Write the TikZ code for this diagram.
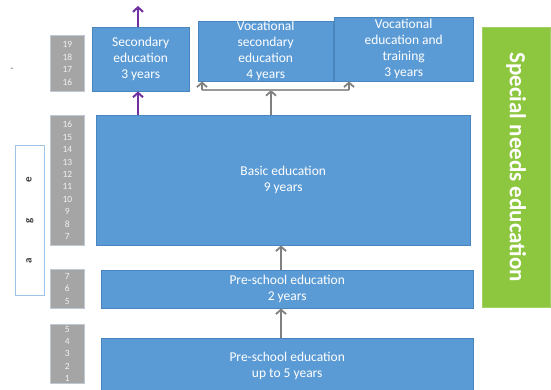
\documentclass[tikz,border=0pt]{standalone}
\usepackage{fontspec}
\setmainfont{Carlito}
\usetikzlibrary{arrows.meta, positioning}
\definecolor{edublue}{HTML}{5B9BD5}
\definecolor{eduedge}{HTML}{4A86BE}
\definecolor{agegray}{HTML}{A5A5A5}
\definecolor{ageedge}{HTML}{BFC9D3}
\definecolor{specgreen}{HTML}{8DC63F}
\definecolor{arrowgray}{HTML}{808080}
\definecolor{pathviolet}{HTML}{7030A0}
\definecolor{labeledge}{HTML}{9DC3E6}

\begin{document}
\begin{tikzpicture}[x=1pt, y=-1pt,
  edubox/.style={draw=eduedge, fill=edublue, text=white, align=center, anchor=north west,
    inner sep=0pt, font=\fontsize{13.5}{16}\selectfont},
  agebox/.style={draw=ageedge, line width=0.8pt, fill=agegray, text=white!85!agegray, align=center,
    anchor=north west, inner sep=0pt, minimum width=34pt, font=\fontsize{9.5}{12.4}\selectfont},
  grayarrow/.style={-{Straight Barb[length=4.5pt, width=10pt]}, draw=arrowgray, line width=1.8pt},
  violetarrow/.style={-{Straight Barb[length=4.5pt, width=10pt]}, draw=pathviolet, line width=2pt}]
\clip (0,0) rectangle (551,390);
\useasboundingbox (0,0) rectangle (551,390);

% age columns
\node[agebox, minimum height=56pt] (age19) at (50,35) {19\\18\\17\\16};
\node[agebox, minimum height=130pt] (age16) at (50,115) {16\\15\\14\\13\\12\\11\\10\\9\\8\\7};
\node[agebox, minimum height=39pt] (age7) at (50,269) {7\\6\\5};
\node[agebox, minimum height=59pt] (age5) at (50,324) {5\\4\\3\\2\\1};

\node[draw=labeledge, fill=white, line width=0.8pt, anchor=north west, minimum width=29pt,
  minimum height=150pt, inner sep=0pt] (agelabel) at (15,145) {};
\node[rotate=90, font=\bfseries\fontsize{11}{11}\selectfont, text=black!75] (agetext)
  at (agelabel.center) {a\hspace{35pt}g\hspace{35pt}e};
\node[text=black!60, font=\fontsize{10}{10}\selectfont] (dash) at (12,70) {-};

% school levels
\node[edubox, minimum width=97pt, minimum height=64pt] (sec) at (92,27) {Secondary\\education\\3 years};
\node[edubox, minimum width=135pt, minimum height=60pt] (vocsec) at (198,21)
  {Vocational\\secondary\\education\\4 years};
\node[edubox, minimum width=139pt, minimum height=64pt] (voctrain) at (334,17)
  {Vocational\\education and\\training\\3 years};
\node[edubox, minimum width=374pt, minimum height=130pt] (basic) at (96,115) {Basic education\\9 years};
\node[edubox, minimum width=372pt, minimum height=38pt] (pre2) at (101,270) {Pre-school education\\2 years};
\node[edubox, minimum width=372pt, minimum height=56pt] (pre5) at (101,338) {Pre-school education\\up to 5 years};

\node[draw=specgreen!80!white, fill=specgreen, anchor=north west, minimum width=68pt,
  minimum height=280pt, inner sep=0pt] (special) at (482,27) {};
\node[rotate=-90, text=white, font=\bfseries\fontsize{23}{23}\selectfont] (spectext)
  at (special.center) {Special needs education};

% arrows
\coordinate (axis) at (281,0);
\coordinate (fork) at (271,90);
\coordinate (forkL) at (202,90);
\coordinate (forkR) at (349,90);
\coordinate (secout) at (138,6);
\coordinate (secin) at (138,0);

\draw[grayarrow] (pre5.north -| axis) -- (pre2.south -| axis);
\draw[grayarrow] (pre2.north -| axis) -- (basic.south -| axis);
\draw[grayarrow] (basic.north -| fork) -- (fork);
\draw[draw=arrowgray!80, line width=1.8pt] (forkL) -- (forkR);
\draw[grayarrow] (forkL) -- (vocsec.south -| forkL);
\draw[grayarrow] (forkR) -- (voctrain.south -| forkR);
\draw[violetarrow] (basic.north -| secin) -- (sec.south -| secin);
\draw[violetarrow] (sec.north -| secin) -- (secout);
\end{tikzpicture}
\end{document}
